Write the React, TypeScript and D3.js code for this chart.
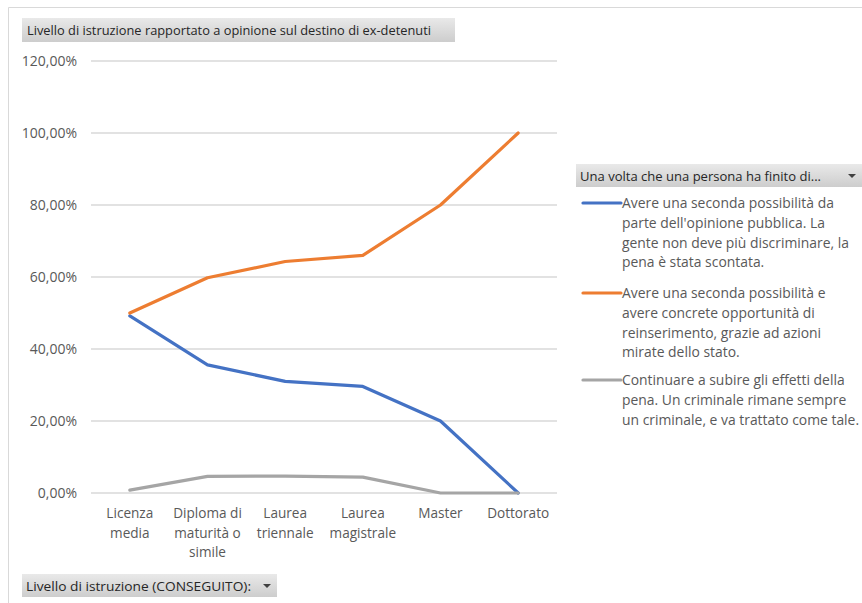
import React from "react";
import * as d3 from "d3";

const categories = [
  ["Licenza", "media"],
  ["Diploma di", "maturità o", "simile"],
  ["Laurea", "triennale"],
  ["Laurea", "magistrale"],
  ["Master"],
  ["Dottorato"],
];
const secondaPossibilitaPubblica = [49.2, 35.6, 31.0, 29.6, 20.0, 0];
const secondaPossibilitaStato = [50.0, 59.8, 64.3, 66.0, 80.0, 100.0];
const subireEffetti = [0.8, 4.6, 4.7, 4.4, 0, 0];
const yTicks = [0, 20, 40, 60, 80, 100, 120];

const seriesColors = ["#4472C4", "#ED7D31", "#A5A5A5"];
const legendLabels = [
  ["Avere una seconda possibilità da", "parte dell'opinione pubblica. La", "gente non deve più discriminare, la", "pena è stata scontata."],
  ["Avere una seconda possibilità e", "avere concrete opportunità di", "reinserimento, grazie ad azioni", "mirate dello stato."],
  ["Continuare a subire gli effetti della", "pena. Un criminale rimane sempre", "un criminale, e va trattato come tale."],
];

const W = 862;
const H = 603;
const FONT = "'Open Sans', 'Liberation Sans', Arial, sans-serif";
const TEXT = "#595959";

export default function App() {
  const x = d3
    .scaleBand<number>()
    .domain(d3.range(categories.length))
    .range([91, 557]);
  const y = d3.scaleLinear().domain([0, 120]).range([493, 61]);
  const cx = (i: number) => (x(i) as number) + x.bandwidth() / 2;
  const line = d3
    .line<number>()
    .x((_, i) => cx(i))
    .y((v) => y(v));
  const series = [secondaPossibilitaPubblica, secondaPossibilitaStato, subireEffetti];
  const fmt = (v: number) => v.toFixed(2).replace(".", ",") + "%";

  const legendStarts = [203, 293, 380];

  return (
    <svg
      width={W}
      height={H}
      style={{ position: "absolute", left: 0, top: 0, background: "#fff" }}
      fontFamily={FONT}
    >
      <defs>
        <linearGradient id="btn" x1="0" y1="0" x2="0" y2="1">
          <stop offset="0" stopColor="#e9e9e9" />
          <stop offset="1" stopColor="#cdcdcd" />
        </linearGradient>
      </defs>
      {/* chart frame */}
      <path d={`M8.5,${H} V7.5 H${W}`} fill="none" stroke="#d9d9d9" />

      {/* title field button */}
      <rect x={22} y={18} width={433} height={24} fill="url(#btn)" />
      <text x={27} y={35} fontSize={13} fill="#262626" textLength={404} lengthAdjust="spacingAndGlyphs">
        Livello di istruzione rapportato a opinione sul destino di ex-detenuti
      </text>

      {/* gridlines and y labels */}
      {yTicks.map((t) => (
        <g key={t}>
          <line x1={91} x2={557} y1={y(t)} y2={y(t)} stroke="#d9d9d9" strokeWidth={1.3} />
          <text x={77} y={y(t) + 5} fontSize={14} fill={TEXT} textAnchor="end">
            {fmt(t)}
          </text>
        </g>
      ))}

      {/* category labels */}
      {categories.map((lines, i) => (
        <text key={i} x={cx(i)} fontSize={13.6} fill={TEXT} textAnchor="middle">
          {lines.map((l, j) => (
            <tspan key={j} x={cx(i)} y={518 + j * 19.5}>
              {l}
            </tspan>
          ))}
        </text>
      ))}

      {/* series lines */}
      {series.map((s, i) => (
        <path
          key={i}
          d={line(s) as string}
          fill="none"
          stroke={seriesColors[i]}
          strokeWidth={3.2}
          strokeLinejoin="round"
          strokeLinecap="round"
        />
      ))}

      {/* legend */}
      <rect x={576} y={164} width={286} height={23} fill="url(#btn)" />
      <text x={580} y={181} fontSize={13} fill="#262626" textLength={241} lengthAdjust="spacingAndGlyphs">
        Una volta che una persona ha finito di...
      </text>
      <path d="M848,174 h8 l-4,4 z" fill="#404040" />
      {legendLabels.map((lines, i) => (
        <g key={i}>
          <line
            x1={583}
            x2={621}
            y1={legendStarts[i]}
            y2={legendStarts[i]}
            stroke={seriesColors[i]}
            strokeWidth={3.2}
            strokeLinecap="round"
          />
          <text fontSize={13.9} fill={TEXT}>
            {lines.map((l, j) => (
              <tspan key={j} x={622} y={legendStarts[i] + 5 + j * 19.8}>
                {l}
              </tspan>
            ))}
          </text>
        </g>
      ))}

      {/* axis field button */}
      <rect x={22} y={574} width={255} height={23} fill="url(#btn)" />
      <text x={26} y={591} fontSize={13} fill="#262626" textLength={225} lengthAdjust="spacingAndGlyphs">
        Livello di istruzione (CONSEGUITO):
      </text>
      <path d="M263,584 h8 l-4,4 z" fill="#404040" />
    </svg>
  );
}
